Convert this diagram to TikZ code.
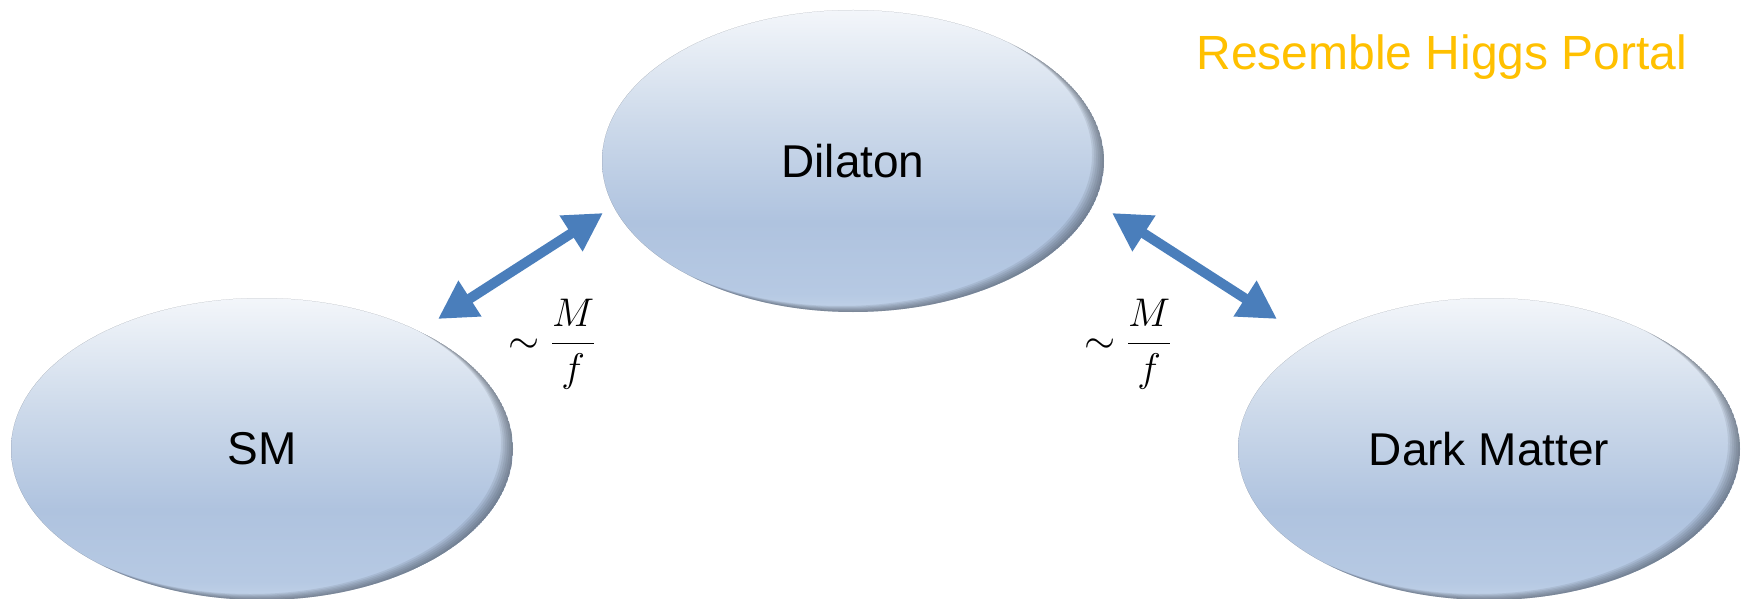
\RequirePackage{fix-cm}
\documentclass[tikz,border=0pt]{standalone}
\usepackage{fontspec}
\setmainfont{Liberation Sans}
\usepackage{amsmath}
\usetikzlibrary{shapes.geometric,arrows.meta}
\definecolor{cTop}{HTML}{F3F6FA}
\definecolor{cMid}{HTML}{CCD9EA}
\definecolor{cLow}{HTML}{AFC3DF}
\definecolor{cBot}{HTML}{B6C9E3}
\definecolor{cB}{HTML}{C2D2E8}
\definecolor{rimcol}{HTML}{3C4450}
\definecolor{arrowblue}{HTML}{4A7EBB}
\definecolor{portal}{HTML}{FFC000}
\pgfdeclareverticalshading{bubshade}{100bp}{color(0bp)=(cB); color(25bp)=(cB); color(28bp)=(cBot); color(40bp)=(cLow); color(56bp)=(cMid); color(75bp)=(cTop); color(100bp)=(cTop)}
\tikzset{
  bub/.style={ellipse, minimum width=502pt, minimum height=302pt, inner sep=0pt, shading=bubshade, font=\fontsize{46}{50}\selectfont},
  link/.style={arrowblue, line width=10pt, {Triangle[width=40pt,length=38pt]}-{Triangle[width=40pt,length=38pt]}},
  coupling/.style={font=\fontsize{40}{44}\selectfont, inner sep=0pt}
}
\newcommand\bubble[4]{%
  \node[bub] (#1) at (#2,#3) {#4};
  \begin{scope}
    \clip (#2,#3) ellipse [x radius=251pt, y radius=151pt];
    \foreach \d in {2,4,...,12} {
      \fill[rimcol, opacity=0.11, even odd rule] (#2,#3) ellipse [x radius=251pt, y radius=151pt]
        (#2-\d,#3-0.5*\d) ellipse [x radius=251pt, y radius=151pt];
    }
  \end{scope}
}
\begin{document}
\begin{tikzpicture}[x=1pt,y=-1pt]
\useasboundingbox (0,0) rectangle (1743,599);
\bubble{dil}{853}{161}{Dilaton}
\bubble{sm}{262}{449}{SM}
\bubble{dm}{1489}{449}{Dark Matter}
\coordinate (a1) at (438,319);
\coordinate (a2) at (603,213);
\coordinate (b1) at (1112,213);
\coordinate (b2) at (1277,319);
\draw[link] (a1) -- (a2);
\draw[link] (b1) -- (b2);
\node[coupling] (lm) at (552,344) {$\sim\dfrac{M}{f}$};
\node[coupling] (rm) at (1128,344) {$\sim\dfrac{M}{f}$};
\node[portal, font=\fontsize{48}{52}\selectfont, anchor=base, inner sep=0pt] (hp) at (1442,70) {Resemble Higgs Portal};
\end{tikzpicture}
\end{document}
